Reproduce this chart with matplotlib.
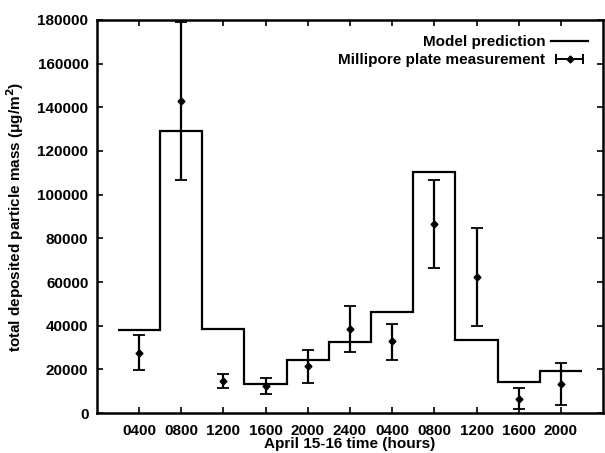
import numpy as np
import matplotlib.pyplot as plt
from matplotlib.lines import Line2D
from matplotlib.legend_handler import HandlerLine2D, HandlerTuple

plt.rcParams['font.family'] = ['Liberation Sans', 'DejaVu Sans']
plt.rcParams['font.weight'] = 'bold'

# step edges (hours since 0000 April 15) and model values
step_edges = [2, 6, 10, 14, 18, 22, 26, 30, 34, 38, 42, 46]
model_vals = [38000, 129000, 38500, 13300, 24300, 32700, 46400, 110500, 33400, 14400, 19200]

# millipore plate measurements
meas_hours = [4, 8, 12, 16, 20, 24, 28, 32, 36, 40, 44]
meas_vals = [27600, 143000, 14500, 12500, 21500, 38600, 33000, 86600, 62200, 6700, 13300]
meas_low = [19700, 106700, 11300, 8600, 13900, 28000, 24300, 66300, 39900, 1700, 3700]
meas_high = [35700, 179000, 17900, 16000, 28900, 49000, 40800, 106700, 84600, 11300, 22800]

tick_labels = ["0400", "0800", "1200", "1600", "2000", "2400",
               "0400", "0800", "1200", "1600", "2000"]

fig = plt.figure(figsize=(6.05, 4.53), dpi=100)
ax = fig.add_axes([0.160, 0.088, 0.837, 0.868])

ax.stairs(model_vals, step_edges, color="k", lw=1.6, baseline=None)

vals = np.array(meas_vals)
yerr = [vals - np.array(meas_low), np.array(meas_high) - vals]
ax.errorbar(meas_hours, meas_vals, yerr=yerr, fmt="D", ms=3.5, color="k",
            ecolor="k", elinewidth=1.6, capsize=4, capthick=1.3)

ax.set_xlim(0, 48)
ax.set_ylim(0, 180000)
ax.set_xticks(meas_hours)
ax.set_xticklabels(tick_labels)
ax.set_yticks(np.arange(0, 180001, 20000))
ax.tick_params(direction="in", top=True, right=True, labelsize=11, length=4, width=1.2)
ax.tick_params(axis="x", pad=8)
ax.tick_params(axis="y", pad=6)
for lab in ax.get_xticklabels() + ax.get_yticklabels():
    lab.set_fontweight("bold")
for s in ax.spines.values():
    s.set_linewidth(1.8)

ax.set_xlabel("April 15-16 time (hours)", fontsize=11, fontweight="bold", labelpad=-1)
ax.set_ylabel("total deposited particle mass (\u03bcg/m$^\\mathbf{2}$)", fontsize=11,
              fontweight="bold", labelpad=8)

# gnuplot-style legend: text first, horizontal errorbar key
model_h = Line2D([], [], color="k", lw=1.6)
bar_h = Line2D([], [], color="k", lw=1.4, marker="|", ms=7, mew=1.4)
dot_h = Line2D([], [], color="k", ls="none", marker="D", ms=3.5)
ax.legend([model_h, (bar_h, dot_h)],
          ["Model prediction", "Millipore plate measurement"],
          handler_map={bar_h: HandlerLine2D(numpoints=2),
                       dot_h: HandlerLine2D(numpoints=1),
                       tuple: HandlerTuple(ndivide=1, pad=0)},
          loc="upper right", frameon=False, markerfirst=False,
          handlelength=2.4, handletextpad=0.4, borderaxespad=0.6,
          labelspacing=0.25, prop={"weight": "bold", "size": 11})

fig.savefig("out.png", dpi=100)
